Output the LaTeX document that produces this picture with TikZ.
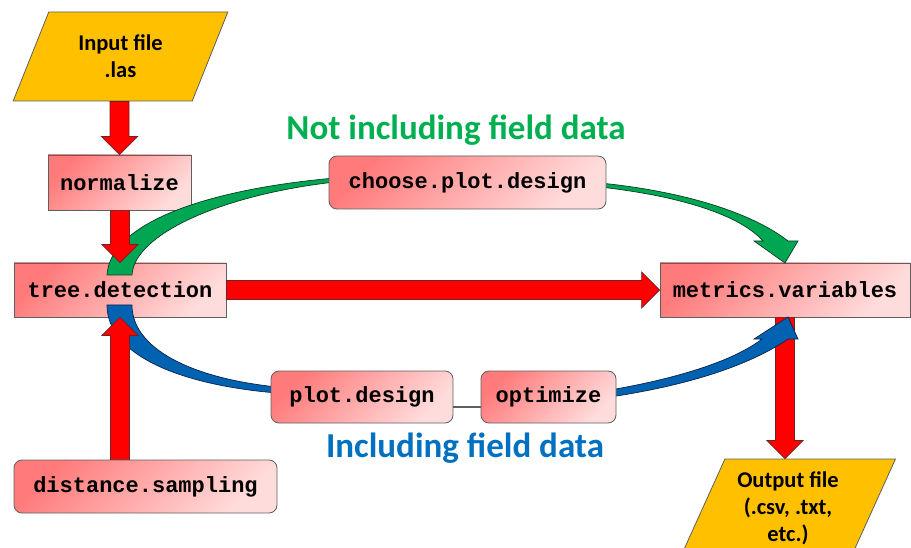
\documentclass[tikz,border=0pt]{standalone}
\usepackage{fontspec}
\setmainfont{Carlito}
\newfontfamily\codefont{Liberation Mono}
\usetikzlibrary{shapes.geometric,calc}

\definecolor{boxdark}{RGB}{255,122,122}
\definecolor{boxlight}{RGB}{255,220,220}
\definecolor{boxedge}{RGB}{95,95,95}
\definecolor{filegold}{RGB}{255,192,0}
\definecolor{flowred}{RGB}{255,0,0}
\definecolor{flowedge}{RGB}{110,35,35}
\definecolor{fieldgreen}{RGB}{0,176,80}
\definecolor{bandgreen}{RGB}{0,166,81}
\definecolor{bandgreenedge}{RGB}{15,60,35}
\definecolor{fieldblue}{RGB}{0,112,192}
\definecolor{bandblue}{RGB}{0,98,176}
\definecolor{bandblueedge}{RGB}{15,35,75}

% block arrow pointing down: shaft starts at #1, tip at #2 (x taken from #2)
\newcommand\blockdown[2]{%
  \path[redblock] let \p1=(#1), \p2=(#2) in
    (\x2-9.5pt,\y1) -- (\x2-9.5pt,\y2+18pt) -- (\x2-18pt,\y2+18pt) -- (\x2,\y2)
    -- (\x2+18pt,\y2+18pt) -- (\x2+9.5pt,\y2+18pt) -- (\x2+9.5pt,\y1) -- cycle;}
% block arrow pointing up
\newcommand\blockup[2]{%
  \path[redblock] let \p1=(#1), \p2=(#2) in
    (\x2-9.5pt,\y1) -- (\x2-9.5pt,\y2-18pt) -- (\x2-18pt,\y2-18pt) -- (\x2,\y2)
    -- (\x2+18pt,\y2-18pt) -- (\x2+9.5pt,\y2-18pt) -- (\x2+9.5pt,\y1) -- cycle;}
% block arrow pointing right
\newcommand\blockright[2]{%
  \path[redblock] let \p1=(#1), \p2=(#2) in
    (\x1,\y2+9.5pt) -- (\x2-18pt,\y2+9.5pt) -- (\x2-18pt,\y2+18pt) -- (\x2,\y2)
    -- (\x2-18pt,\y2-18pt) -- (\x2-18pt,\y2-9.5pt) -- (\x1,\y2-9.5pt) -- cycle;}

\begin{document}
\begin{tikzpicture}[x=1pt,y=-1pt,
  func/.style={draw=boxedge, line width=0.8pt, top color=boxdark,
    bottom color=boxlight, shading angle=45, inner sep=0pt,
    font=\codefont\bfseries\fontsize{22}{26}\selectfont, text=black},
  roundfunc/.style={func, rounded corners=8pt},
  filebox/.style={trapezium, trapezium left angle=64, trapezium right angle=116,
    trapezium stretches=true, draw=boxedge, line width=0.8pt, fill=filegold,
    inner sep=0pt, align=center, font=\bfseries\fontsize{22.5}{27}\selectfont},
  redblock/.style={draw=flowedge, line width=0.7pt, fill=flowred},
  greenband/.style={draw=bandgreenedge, line width=0.7pt, fill=bandgreen},
  blueband/.style={draw=bandblueedge, line width=0.7pt, fill=bandblue},
  title/.style={anchor=base, font=\bfseries\fontsize{35}{40}\selectfont}]

\useasboundingbox (0,0) rectangle (911,548);

% input and output files
\node[filebox, minimum width=215pt, minimum height=89pt] (in) at (120.5,56.5)
  {Input file\\.las};
\node[filebox, minimum width=215pt, minimum height=98pt] (out) at (788,508)
  {Output file\\(.csv, .txt,\\etc.)};

% function boxes
\node[func, minimum width=143pt, minimum height=55pt] (norm) at (119.5,182.5) {normalize};
\node[func, minimum width=212pt, minimum height=54pt] (td) at (120,290) {tree.detection};
\node[func, minimum width=250pt, minimum height=54pt] (mv) at (785,290) {metrics.variables};

% main flow arrows
\blockdown{in.south}{norm.north}
\blockright{td.east}{mv.west}
\blockdown{mv.south}{mv.south |- out.north}

% branch without field data
\path[greenband] (107,275) .. controls (110,225) and (200,190) .. (335,178)
  -- (335,182) .. controls (220,195) and (134,235) .. (132,275) -- cycle;
\path[greenband] (600,183) .. controls (690,192) and (755,215) .. (788,241)
  -- (798,241) -- (785,263) -- (754,241) -- (763,241)
  .. controls (740,215) and (680,196) .. (600,187) -- cycle;

% branch with field data
\path[blueband] (107,305) .. controls (107,355) and (180,385) .. (277,393)
  -- (277,387) .. controls (190,378) and (132,348) .. (132,305) -- cycle;
\path[blueband] (610,390) .. controls (680,378) and (735,360) .. (762,339)
  -- (754,339) -- (788,317) -- (798,339) -- (788,339)
  .. controls (750,365) and (690,385) .. (610,397) -- cycle;

\node[roundfunc, minimum width=277pt, minimum height=53pt] (cpd) at (467.5,182.5) {choose.plot.design};
\node[roundfunc, minimum width=182pt, minimum height=52pt] (pd) at (362,397) {plot.design};
\node[roundfunc, minimum width=135pt, minimum height=52pt] (opt) at (548.5,397) {optimize};
\node[roundfunc, minimum width=263pt, minimum height=53pt] (ds) at (145.5,486.5) {distance.sampling};

\draw[draw=boxedge, line width=1.2pt] ([yshift=-10pt]pd.east) -- ([yshift=-10pt]opt.west);

% arrows into tree.detection
\blockdown{norm.south}{td.north}
\blockup{ds.north -| td.south}{td.south}

% branch titles
\node[title, text=fieldgreen] (tgreen) at (456,140) {Not including field data};
\node[title, text=fieldblue] (tblue) at (465,457) {Including field data};
\end{tikzpicture}
\end{document}
